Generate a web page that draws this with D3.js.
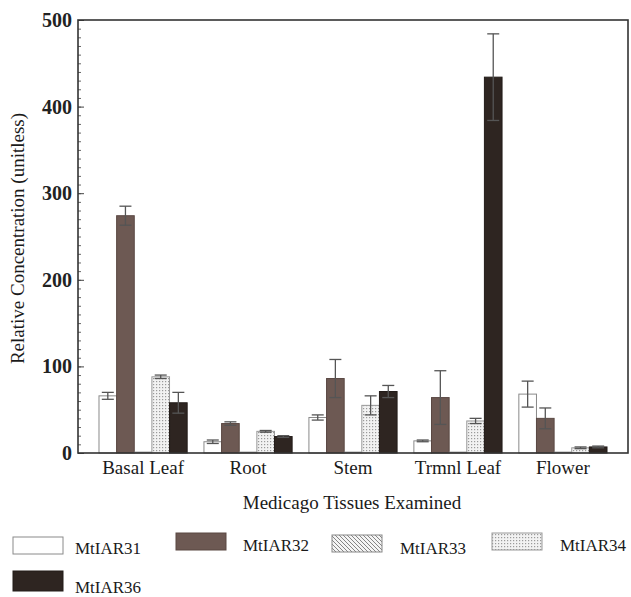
<!DOCTYPE html>
<html>
<head>
<meta charset="utf-8">
<script src="https://cdn.jsdelivr.net/npm/d3@7/dist/d3.min.js"></script>
<style>
  html, body { margin: 0; padding: 0; background: #fff; }
  svg { display: block; }
</style>
</head>
<body>
<svg id="chart" width="631" height="597"></svg>
<script>
// Tissues and transcripts
const categories = ["Basal Leaf", "Root", "Stem", "Trmnl Leaf", "Flower"];
const seriesNames = ["MtIAR31", "MtIAR32", "MtIAR33", "MtIAR34", "MtIAR36"];

// Mean relative concentration per tissue (same order as categories)
const mtiar31 = [66, 13, 41, 14, 68];
const mtiar32 = [274, 34, 86, 64, 40];
const mtiar33 = [1, 1, 1, 1, 1];
const mtiar34 = [88, 25, 55, 37, 6];
const mtiar36 = [58, 19, 71, 434, 7];

// Error (+/-) per tissue
const err31 = [4, 2, 3, 1, 15];
const err32 = [11, 2, 22, 31, 12];
const err33 = [0, 0, 0, 0, 0];
const err34 = [2, 1, 11, 3, 1];
const err36 = [12, 1, 7, 50, 1];

const yTicks = [0, 100, 200, 300, 400, 500];

const seriesValues = [mtiar31, mtiar32, mtiar33, mtiar34, mtiar36];
const seriesErrors = [err31, err32, err33, err34, err36];

const FONT = "'Liberation Serif', 'Times New Roman', serif";

const svg = d3.select("#chart");
const defs = svg.append("defs");

// Fill patterns
const hatch = defs.append("pattern")
  .attr("id", "hatch").attr("patternUnits", "userSpaceOnUse")
  .attr("width", 4).attr("height", 4);
hatch.append("rect").attr("width", 4).attr("height", 4).attr("fill", "#f4f4f4");
hatch.append("path").attr("d", "M-1,-1 L5,5 M-1,3 L1,5 M3,-1 L5,1")
  .attr("stroke", "#777").attr("stroke-width", 0.9);

const dots = defs.append("pattern")
  .attr("id", "dots").attr("patternUnits", "userSpaceOnUse")
  .attr("width", 3).attr("height", 3);
dots.append("rect").attr("width", 3).attr("height", 3).attr("fill", "#f2f2f2");
dots.append("rect").attr("width", 1.2).attr("height", 1.2).attr("fill", "#9a9a9a");

const fills = {
  MtIAR31: "#ffffff",
  MtIAR32: "#6d5953",
  MtIAR33: "url(#hatch)",
  MtIAR34: "url(#dots)",
  MtIAR36: "#2e2521"
};
const strokes = {
  MtIAR31: "#8a8a8a",
  MtIAR32: "#5a4843",
  MtIAR33: "#888",
  MtIAR34: "#999",
  MtIAR36: "#231c19"
};

const plot = { left: 78, right: 628, top: 20, bottom: 453 };

const x0 = d3.scaleBand().domain(categories)
  .range([plot.left, plot.right]).paddingInner(0.16).paddingOuter(0.2);
const x1 = d3.scaleBand().domain(seriesNames).range([0, x0.bandwidth()]);
const y = d3.scaleLinear().domain([0, 500]).range([plot.bottom, plot.top]);

// Bars
const rows = [];
categories.forEach((c, i) => {
  seriesNames.forEach((s, j) => {
    rows.push({ cat: c, series: s, value: seriesValues[j][i], err: seriesErrors[j][i] });
  });
});

const g = svg.append("g");
g.selectAll("rect.bar").data(rows).join("rect")
  .attr("class", "bar")
  .attr("x", d => x0(d.cat) + x1(d.series))
  .attr("y", d => y(d.value))
  .attr("width", x1.bandwidth())
  .attr("height", d => y(0) - y(d.value))
  .attr("fill", d => fills[d.series])
  .attr("stroke", d => strokes[d.series])
  .attr("stroke-width", 1);

// Error bars
const eb = g.selectAll("g.err").data(rows.filter(d => d.err > 0)).join("g").attr("class", "err");
const cx = d => x0(d.cat) + x1(d.series) + x1.bandwidth() / 2;
const capHalf = 6;
eb.append("line")
  .attr("x1", cx).attr("x2", cx)
  .attr("y1", d => y(d.value + d.err)).attr("y2", d => y(d.value - d.err))
  .attr("stroke", "#555").attr("stroke-width", 1.3);
eb.append("line")
  .attr("x1", d => cx(d) - capHalf).attr("x2", d => cx(d) + capHalf)
  .attr("y1", d => y(d.value + d.err)).attr("y2", d => y(d.value + d.err))
  .attr("stroke", "#555").attr("stroke-width", 1.3);
eb.append("line")
  .attr("x1", d => cx(d) - capHalf).attr("x2", d => cx(d) + capHalf)
  .attr("y1", d => y(d.value - d.err)).attr("y2", d => y(d.value - d.err))
  .attr("stroke", "#555").attr("stroke-width", 1.3);

// Minor ticks every 10
const minor = svg.append("g").attr("transform", `translate(${plot.left},0)`)
  .call(d3.axisLeft(y).tickValues(d3.range(0, 501, 10)).tickSize(-3).tickFormat(""));
minor.select(".domain").remove();
minor.selectAll("line").attr("stroke", "#666");

// Major ticks with labels
const yAxis = svg.append("g").attr("transform", `translate(${plot.left},0)`)
  .call(d3.axisLeft(y).tickValues(yTicks).tickSize(-6).tickPadding(6).tickFormat(d3.format("d")));
yAxis.attr("font-family", FONT);
yAxis.select(".domain").remove();
yAxis.selectAll("line").attr("stroke", "#444");
yAxis.selectAll("text")
  .attr("font-family", FONT)
  .attr("font-size", 20).attr("font-weight", "bold").attr("fill", "#222");

// Category labels
const xAxis = svg.append("g").attr("transform", `translate(0,${plot.bottom})`)
  .call(d3.axisBottom(x0).tickSize(0).tickPadding(8));
xAxis.attr("font-family", FONT);
xAxis.select(".domain").remove();
xAxis.selectAll("text")
  .attr("font-family", FONT)
  .attr("font-size", 19).attr("fill", "#1a1a1a");

// Frame
svg.append("rect")
  .attr("x", plot.left).attr("y", plot.top)
  .attr("width", plot.right - plot.left).attr("height", plot.bottom - plot.top)
  .attr("fill", "none").attr("stroke", "#333").attr("stroke-width", 1.6);

// Axis titles
svg.append("text")
  .attr("transform", `translate(24,${(plot.top + plot.bottom) / 2 + 2}) rotate(-90)`)
  .attr("text-anchor", "middle")
  .attr("font-family", FONT)
  .attr("font-size", 19)
  .attr("fill", "#1a1a1a")
  .text("Relative Concentration (unitless)");

svg.append("text")
  .attr("x", 352).attr("y", 509)
  .attr("text-anchor", "middle")
  .attr("font-family", FONT)
  .attr("font-size", 19)
  .attr("fill", "#1a1a1a")
  .text("Medicago Tissues Examined");

// Legend
const legendPos = [
  { x: 13, y: 537, tx: 75, ty: 554 },
  { x: 176, y: 533, tx: 243, ty: 551 },
  { x: 332, y: 535, tx: 400, ty: 554 },
  { x: 492, y: 533, tx: 560, ty: 551 },
  { x: 13, y: 571, tx: 75, ty: 593 }
];
const legend = svg.append("g");
seriesNames.forEach((s, i) => {
  const p = legendPos[i];
  legend.append("rect")
    .attr("x", p.x).attr("y", p.y).attr("width", 50).attr("height", i === 4 ? 20 : 17)
    .attr("fill", fills[s]).attr("stroke", strokes[s]).attr("stroke-width", 1);
  legend.append("text")
    .attr("x", p.tx).attr("y", p.ty)
    .attr("font-family", FONT)
    .attr("font-size", 17)
    .attr("fill", "#1a1a1a")
    .text(s);
});
</script>
</body>
</html>
